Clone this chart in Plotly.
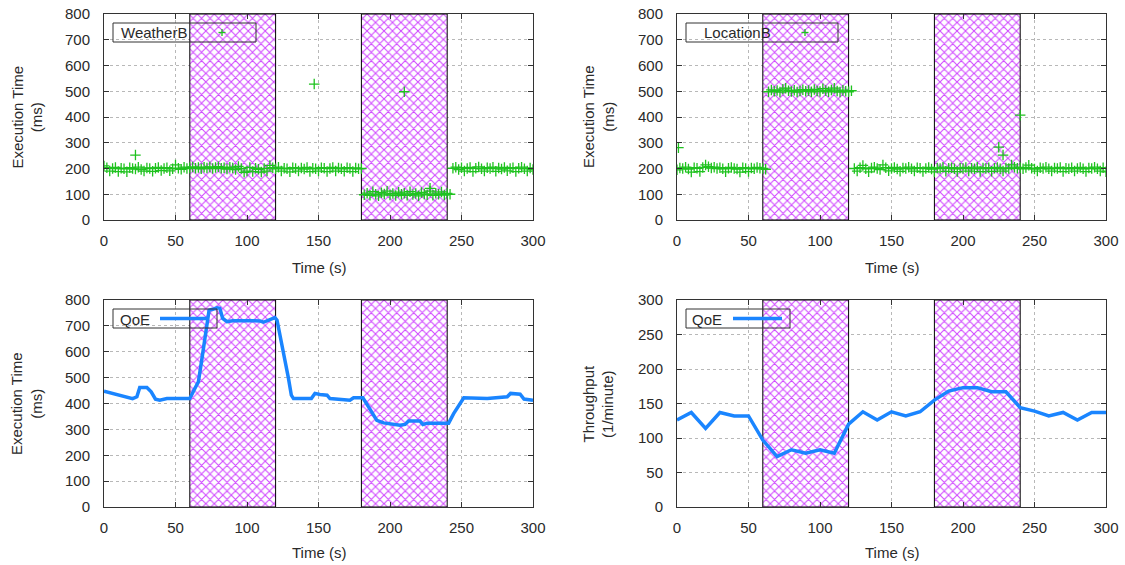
import plotly.graph_objects as go

W, H = 1125, 565
FONT = "Liberation Sans, Arial, sans-serif"
TXT = "#2a2a2a"
GREEN = "#1fc21f"
BLUE = "#1a85ff"
HATCH = "#d048ff"

# ---------------- data ----------------
SHADE_START = [60, 180]
SHADE_END = [120, 240]

SAMPLE_T = [0, 2, 4, 6, 8, 10, 12, 14, 16, 18, 20, 22, 24, 26, 28, 30, 32, 34, 36, 38,
            40, 42, 44, 46, 48, 50, 52, 54, 56, 58, 60, 62, 64, 66, 68, 70, 72, 74, 76, 78,
            80, 82, 84, 86, 88, 90, 92, 94, 96, 98, 100, 102, 104, 106, 108, 110, 112, 114, 116, 118,
            120, 122, 124, 126, 128, 130, 132, 134, 136, 138, 140, 142, 144, 146, 148, 150, 152, 154, 156, 158,
            160, 162, 164, 166, 168, 170, 172, 174, 176, 178, 180, 182, 184, 186, 188, 190, 192, 194, 196, 198,
            200, 202, 204, 206, 208, 210, 212, 214, 216, 218, 220, 222, 224, 226, 228, 230, 232, 234, 236, 238,
            240, 242, 244, 246, 248, 250, 252, 254, 256, 258, 260, 262, 264, 266, 268, 270, 272, 274, 276, 278,
            280, 282, 284, 286, 288, 290, 292, 294, 296, 298, 300]

WEATHER_V = [210, 203, 190, 200, 204, 188, 201, 199, 187, 203, 200, 198, 205, 196, 190, 202, 200, 189, 201, 204,
             192, 200, 203, 191, 199, 214, 201, 197, 205, 200, 203, 206, 201, 204, 199, 205, 202, 206, 200, 204,
             207, 201, 203, 198, 205, 202, 196, 208, 200, 185, 190, 204, 188, 201, 197, 186, 200, 190, 212, 203,
             199, 205, 190, 201, 199, 187, 203, 200, 190, 202, 198, 204, 188, 201, 199, 190, 203, 201, 188, 200,
             204, 190, 202, 199, 189, 203, 200, 188, 202, 199, 200, 98, 104, 96, 110, 100, 94, 106, 101, 112,
             97, 103, 95, 108, 100, 104, 96, 110, 99, 103, 94, 107, 101, 98, 112, 96, 104, 100, 109, 97,
             103, 100, 201, 205, 196, 203, 190, 200, 204, 188, 201, 206, 199, 190, 203, 200, 205, 189, 202, 198,
             204, 191, 200, 203, 188, 201, 205, 199, 190, 202, 196]
WEATHER_OUT_T = [22, 147, 210, 228]
WEATHER_OUT_V = [252, 528, 498, 123]

LOCATION_V = [195, 202, 200, 205, 198, 186, 203, 201, 188, 204, 214, 207, 202, 205, 200, 203, 199, 187, 201, 204,
              200, 198, 186, 203, 200, 188, 202, 199, 204, 201, 200, 197, 498, 505, 500, 503, 497, 508, 512, 502,
              499, 504, 497, 501, 506, 500, 503, 498, 507, 501, 499, 510, 503, 498, 505, 512, 501, 497, 504, 500,
              498, 502, 200, 190, 203, 212, 199, 187, 202, 205, 200, 196, 214, 203, 191, 200, 204, 198, 189, 202,
              200, 205, 199, 190, 203, 201, 188, 200, 204, 198, 187, 202, 200, 205, 189, 201, 203, 199, 188, 202,
              200, 204, 190, 201, 199, 205, 188, 202, 200, 203, 189, 201, 204, 199, 190, 202, 200, 214, 205, 201,
              203, 199, 204, 213, 201, 198, 190, 203, 200, 205, 199, 190, 202, 200, 204, 188, 201, 199, 203, 190,
              200, 204, 199, 188, 202, 200, 205, 199, 190, 203, 187]
LOCATION_OUT_T = [1, 225, 228, 240]
LOCATION_OUT_V = [281, 283, 252, 407]

QOE_EXEC_T = [0, 6, 12, 16, 20, 23, 25, 30, 33, 36, 39, 44, 60, 63, 66, 68, 70.5, 72, 73.5, 76,
              79, 81, 83, 86, 90, 102, 109, 111.5, 114, 116, 119.5, 121, 125.5, 129, 131, 132.5, 145, 147.5, 151, 156,
              158, 170, 172, 174.5, 181, 185, 190.8, 195.5, 203.5, 207, 210.5, 213, 221, 223, 226, 241, 244.5, 249.3, 251.6, 268,
              272.5, 282, 284.3, 291, 293.7, 300]
QOE_EXEC_V = [448, 439, 432, 426, 419, 426, 462, 462, 445, 417, 413, 419, 419, 452, 484, 555, 652, 716, 761, 764,
              770, 768, 729, 716, 720, 720, 719, 714, 720, 725, 732, 722, 600, 497, 432, 419, 419, 439, 435, 432,
              419, 415, 413, 422, 422, 387, 335, 325, 320, 316, 319, 332, 332, 319, 324, 324, 361, 406, 422, 419,
              422, 426, 439, 436, 417, 413]

THR_T = [0, 10, 20, 30, 40, 50, 60, 70, 80, 90, 100, 110, 120, 130, 140, 150, 160, 170, 180, 190,
         200, 210, 220, 230, 240, 250, 260, 270, 280, 290, 300]
THR_V = [126, 137, 114, 137, 132, 132, 97, 73, 83, 78, 83, 78, 120, 138, 126, 138, 132, 138, 155, 168,
         173, 173, 167, 167, 144, 139, 132, 137, 126, 137, 137]

X_TITLE = "Time (s)"
Y_TITLES = ["Execution Time<br>(ms)", "Execution Time<br>(ms)", "Execution Time<br>(ms)", "Throughput<br>(1/minute)"]
LEGEND_NAMES = ["WeatherB", "LocationB", "QoE", "QoE"]

# ---------------- layout geometry (pixels -> paper fractions) ----------------
def px(x):
    return x / W

def py(y):
    return 1 - y / H

PANELS = [
    dict(s="", x0=104, x1=533, y0=14, y1=220, ymax=800, dy=100, tdy=47, ydx=77.5),
    dict(s="2", x0=677, x1=1106, y0=14, y1=220, ymax=800, dy=100, tdy=47, ydx=79),
    dict(s="3", x0=104, x1=533, y0=300, y1=507, ymax=800, dy=100, tdy=45, ydx=77.5),
    dict(s="4", x0=677, x1=1106, y0=300, y1=507, ymax=300, dy=50, tdy=45, ydx=79),
]

fig = go.Figure()

mids = [(a + b) / 2 for a, b in zip(SHADE_START, SHADE_END)]
widths = [b - a for a, b in zip(SHADE_START, SHADE_END)]

for p in PANELS:
    s = p["s"]
    fig.add_trace(go.Bar(
        x=mids, y=[p["ymax"]] * len(mids), width=widths, base=0,
        xaxis="x" + s, yaxis="y" + s, showlegend=False, hoverinfo="skip",
        marker=dict(color="white", line=dict(color="black", width=1),
                    pattern=dict(shape="x", fgcolor=HATCH, bgcolor="white",
                                 size=6, solidity=0.32, fillmode="replace")),
    ))

mk = dict(symbol="cross-thin", size=7.5, color=GREEN, line=dict(color=GREEN, width=1.3))
fig.add_trace(go.Scatter(x=SAMPLE_T, y=WEATHER_V, mode="markers", marker=mk, xaxis="x", yaxis="y"))
fig.add_trace(go.Scatter(x=WEATHER_OUT_T, y=WEATHER_OUT_V, mode="markers", marker=mk, xaxis="x", yaxis="y"))
fig.add_trace(go.Scatter(x=SAMPLE_T, y=LOCATION_V, mode="markers", marker=mk, xaxis="x2", yaxis="y2"))
fig.add_trace(go.Scatter(x=LOCATION_OUT_T, y=LOCATION_OUT_V, mode="markers", marker=mk, xaxis="x2", yaxis="y2"))
fig.add_trace(go.Scatter(x=QOE_EXEC_T, y=QOE_EXEC_V, mode="lines", line=dict(color=BLUE, width=3.5),
                         xaxis="x3", yaxis="y3"))
fig.add_trace(go.Scatter(x=THR_T, y=THR_V, mode="lines", line=dict(color=BLUE, width=3.5),
                         xaxis="x4", yaxis="y4"))

tickfont = dict(family=FONT, size=15, color=TXT)
layout = dict(width=W, height=H, margin=dict(l=0, r=0, t=0, b=0, autoexpand=False), autosize=False,
              paper_bgcolor="white", plot_bgcolor="white", showlegend=False,
              barmode="overlay", font=dict(family=FONT, color=TXT))
for p in PANELS:
    s = p["s"]
    common = dict(showline=True, linecolor="#333333", linewidth=1, mirror="ticks",
                  ticks="inside", ticklen=5, tickcolor="#333333", tickwidth=1,
                  showgrid=True, gridcolor="#b8b8b8", griddash="dot", gridwidth=1,
                  zeroline=False, tickfont=tickfont, fixedrange=True, automargin=False)
    layout["xaxis" + s] = dict(domain=[px(p["x0"]), px(p["x1"])], anchor="y" + s,
                               range=[0, 300], tick0=0, dtick=50, ticklabelstandoff=7, **common)
    layout["yaxis" + s] = dict(domain=[py(p["y1"]), py(p["y0"])], anchor="x" + s,
                               range=[0, p["ymax"]], tick0=0, dtick=p["dy"], ticklabelstandoff=10, **common)
fig.update_layout(**layout)

# axis titles
ann = []
for i, p in enumerate(PANELS):
    ann.append(dict(text=X_TITLE, xref="paper", yref="paper", x=px((p["x0"] + p["x1"]) / 2),
                    y=py(p["y1"] + p["tdy"]), xanchor="center", yanchor="middle", showarrow=False,
                    font=dict(family=FONT, size=15, color=TXT)))
    ann.append(dict(text=Y_TITLES[i], xref="paper", yref="paper", x=px(p["x0"] - p["ydx"]),
                    y=py((p["y0"] + p["y1"]) / 2), xanchor="center", yanchor="middle",
                    textangle=-90, showarrow=False, font=dict(family=FONT, size=15, color=TXT)))

# legend boxes (gnuplot-style keys)
KEYS = [
    dict(box=(113, 23, 256, 42), text_x=119, sample=("plus", 222)),
    dict(box=(686, 23, 838, 42), text_x=702, sample=("plus", 805)),
    dict(box=(113, 309, 217, 328), text_x=118, sample=("line", 160, 207)),
    dict(box=(686, 309, 790, 328), text_x=690, sample=("line", 733, 782)),
]
shapes = []
for i, k in enumerate(KEYS):
    bx0, by0, bx1, by1 = k["box"]
    cy = (by0 + by1) / 2
    shapes.append(dict(type="rect", xref="paper", yref="paper", x0=px(bx0), x1=px(bx1),
                       y0=py(by1), y1=py(by0), fillcolor="white", line=dict(width=0), layer="between"))
    shapes.append(dict(type="rect", xref="paper", yref="paper", x0=px(bx0), x1=px(bx1),
                       y0=py(by1), y1=py(by0), line=dict(color="#333333", width=1), layer="above"))
    ann.append(dict(text=LEGEND_NAMES[i], xref="paper", yref="paper", x=px(k["text_x"]), y=py(cy + 0.5),
                    xanchor="left", yanchor="middle", showarrow=False,
                    font=dict(family=FONT, size=15, color=TXT)))
    smp = k["sample"]
    if smp[0] == "plus":
        cx = smp[1]
        shapes.append(dict(type="line", xref="paper", yref="paper", x0=px(cx - 3.5), x1=px(cx + 3.5),
                           y0=py(cy), y1=py(cy), line=dict(color=GREEN, width=1.3), layer="above"))
        shapes.append(dict(type="line", xref="paper", yref="paper", x0=px(cx), x1=px(cx),
                           y0=py(cy - 3.5), y1=py(cy + 3.5), line=dict(color=GREEN, width=1.3), layer="above"))
    else:
        shapes.append(dict(type="line", xref="paper", yref="paper", x0=px(smp[1]), x1=px(smp[2]),
                           y0=py(cy), y1=py(cy), line=dict(color=BLUE, width=3.5), layer="above"))

fig.update_layout(annotations=ann, shapes=shapes)
fig.write_html("out.html")
